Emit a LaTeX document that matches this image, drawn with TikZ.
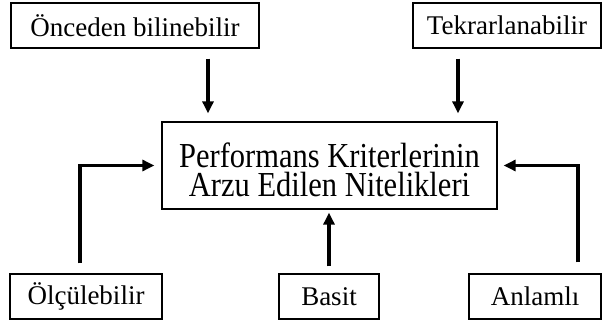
\documentclass[tikz,border=0pt]{standalone}
\usepackage{fontspec}
\setmainfont{Liberation Serif}
\usetikzlibrary{arrows.meta}

\begin{document}
\begin{tikzpicture}[x=1pt, y=-1pt,
    kutu/.style={draw, line width=1.3pt, inner sep=0pt, minimum height=45pt,
      font=\fontsize{27}{30}\selectfont},
    ok/.style={line width=3.5pt, -{Triangle[length=12pt, width=11pt]}}]
  \useasboundingbox (0,0) rectangle (602,321);
  % central box
  \node[kutu, minimum width=335pt, minimum height=87pt, text height=61pt, text depth=0pt] (perf) at (329.5,165.5)
    {\scalebox{1}[1.15]{\parbox[b]{330pt}{\centering\fontsize{30.5}{25}\selectfont
      Performans Kriterlerinin\\Arzu Edilen Nitelikleri}}};
  % outer boxes
  \foreach \name/\x/\y/\w/\txt in {
      onc/135/25.5/248/Önceden bilinebilir,
      tek/507/25.5/188/Tekrarlanabilir,
      olc/86/296.5/152/Ölçülebilir,
      bas/329/296.5/100/Basit,
      anl/535/296.5/132/Anlamlı} {
    \node[kutu, minimum width=\w pt] (\name) at (\x,\y) {\txt};
  }
  % arrows
  \draw[ok, shorten <=10pt, shorten >=8pt] ([xshift=73pt]onc.south) -- ([xshift=73pt]onc.south |- perf.north);
  \draw[ok, shorten <=10pt, shorten >=8pt] ([xshift=-49pt]tek.south) -- ([xshift=-49pt]tek.south |- perf.north);
  \draw[ok, shorten <=10pt, shorten >=7pt] ([xshift=-6pt]olc.north) |- (perf.west);
  \draw[ok, shorten <=7pt, shorten >=3pt] (bas.north) -- (bas.north |- perf.south);
  \draw[ok, shorten <=11pt, shorten >=6pt] ([xshift=43pt]anl.north) |- (perf.east);
\end{tikzpicture}
\end{document}
